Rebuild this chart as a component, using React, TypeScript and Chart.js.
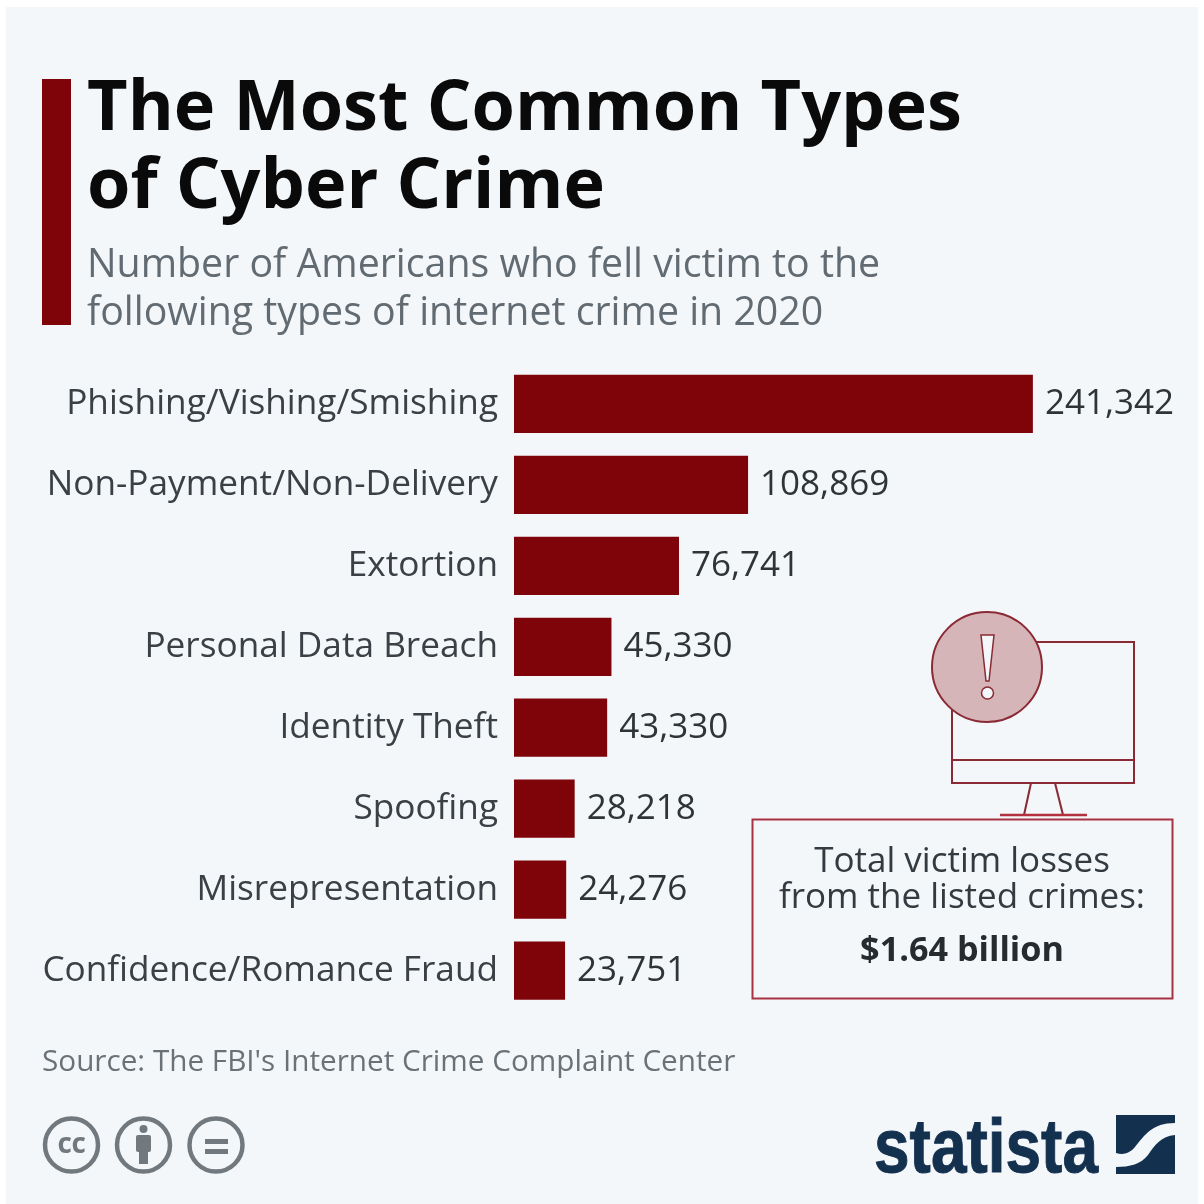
import React, { useEffect, useRef } from "react";
import { Chart, registerables } from "chart.js";

Chart.register(...registerables);

const categories = [
  "Phishing/Vishing/Smishing",
  "Non-Payment/Non-Delivery",
  "Extortion",
  "Personal Data Breach",
  "Identity Theft",
  "Spoofing",
  "Misrepresentation",
  "Confidence/Romance Fraud",
];
const victims = [241342, 108869, 76741, 45330, 43330, 28218, 24276, 23751];
const titleLines = ["The Most Common Types", "of Cyber Crime"];
const subtitleLines = [
  "Number of Americans who fell victim to the",
  "following types of internet crime in 2020",
];
const sourceText = "Source: The FBI's Internet Crime Complaint Center";
const boxLines = ["Total victim losses", "from the listed crimes:"];
const boxValue = "$1.64 billion";

const FONT = '"Open Sans", sans-serif';
const RED = "#7f0409";
const LINE = "#8a2a35";
const GREY = "#72797e";

const valueLabels = {
  id: "valueLabels",
  afterDatasetsDraw(chart: any) {
    const { ctx } = chart;
    const meta = chart.getDatasetMeta(0);
    ctx.save();
    ctx.font = `35px ${FONT}`;
    ctx.fillStyle = "#2f3437";
    ctx.textAlign = "left";
    ctx.textBaseline = "middle";
    meta.data.forEach((bar: any, i: number) => {
      ctx.fillText(victims[i].toLocaleString("en-US"), bar.x + 12, bar.y);
    });
    ctx.restore();
  },
};

export default function App() {
  const ref = useRef<HTMLCanvasElement>(null);

  useEffect(() => {
    const chart = new Chart(ref.current!, {
      type: "bar",
      data: {
        labels: categories,
        datasets: [
          {
            data: victims,
            backgroundColor: RED,
            barPercentage: 0.72,
            categoryPercentage: 1,
          },
        ],
      },
      options: {
        indexAxis: "y",
        animation: false,
        responsive: false,
        devicePixelRatio: 1,
        layout: { padding: { top: 363.5, bottom: 193, left: 0, right: 45 } },
        plugins: { legend: { display: false }, tooltip: { enabled: false } },
        scales: {
          x: { display: false, min: 0, max: 300000 },
          y: {
            grid: { display: false },
            border: { display: false },
            afterFit(scale: any) {
              scale.width = 514;
            },
            ticks: {
              padding: 8,
              autoSkip: false,
              color: "#3a4045",
              font: { family: "Open Sans", size: 35.2 },
            },
          },
        },
      },
      plugins: [valueLabels],
    });
    return () => chart.destroy();
  }, []);

  return (
    <div style={{ position: "absolute", left: 0, top: 0, width: 1204, height: 1204, background: "#ffffff", overflow: "hidden" }}>
      <div style={{ position: "absolute", left: 6, top: 7, width: 1192, height: 1197, background: "#f3f7fa" }} />
      <canvas ref={ref} width={1204} height={1204} style={{ position: "absolute", left: 0, top: 0, display: "block" }} />
      <svg width={1204} height={1204} style={{ position: "absolute", left: 0, top: 0 }} fontFamily={FONT}>
        <rect x={42} y={79} width={29} height={246} fill={RED} />
        <text x={87} y={130} fontSize={70.2} fontWeight={700} fill="#0a0a0a">{titleLines[0]}</text>
        <text x={87} y={208} fontSize={70.2} fontWeight={700} fill="#0a0a0a">{titleLines[1]}</text>
        <text x={87} y={277} fontSize={39.3} fill="#626b72">{subtitleLines[0]}</text>
        <text x={87} y={325} fontSize={39.3} fill="#626b72">{subtitleLines[1]}</text>

        {/* monitor */}
        <g fill="none" stroke={LINE} strokeWidth={2}>
          <rect x={952} y={642} width={182} height={141} />
          <line x1={952} y1={760} x2={1134} y2={760} />
          <line x1={1031} y1={783} x2={1024} y2={815} />
          <line x1={1055} y1={783} x2={1063} y2={815} />
        </g>
        <line x1={1000} y1={815} x2={1087} y2={815} stroke="#b5303f" strokeWidth={2.5} />
        <circle cx={987} cy={667} r={55} fill="#d6b5b8" stroke={LINE} strokeWidth={2} />
        <path d="M981 635 L994 635 L989 681 L986 681 Z" fill="#f3f7fa" stroke={LINE} strokeWidth={1.5} />
        <circle cx={987.5} cy={693} r={6} fill="#f3f7fa" stroke={LINE} strokeWidth={1.5} />

        {/* losses box */}
        <rect x={752.5} y={819.5} width={420} height={179} fill="none" stroke="#a83243" strokeWidth={2} />
        <text x={962} y={872} fontSize={35} textAnchor="middle" fill="#333a40">{boxLines[0]}</text>
        <text x={962} y={908} fontSize={35} textAnchor="middle" fill="#333a40">{boxLines[1]}</text>
        <text x={962} y={961} fontSize={34.2} fontWeight={700} textAnchor="middle" fill="#262b30">{boxValue}</text>

        <text x={42} y={1071} fontSize={29.7} fill="#6a7278">{sourceText}</text>

        {/* licence icons */}
        <g fill="none" stroke={GREY} strokeWidth={4.5}>
          <circle cx={71.5} cy={1145} r={26.5} />
          <circle cx={143.5} cy={1145} r={26.5} />
          <circle cx={216} cy={1145} r={26.5} />
        </g>
        <text x={71.5} y={1153} fontSize={28} fontWeight={700} textAnchor="middle" fill={GREY} letterSpacing={-0.5}>cc</text>
        <g fill={GREY}>
          <circle cx={143.5} cy={1129} r={4} />
          <rect x={136} y={1135} width={15} height={17} rx={2} />
          <rect x={139} y={1150} width={9} height={14} />
          <rect x={205} y={1139} width={23} height={5} />
          <rect x={205} y={1149} width={23} height={5} />
        </g>

        {/* logo */}
        <text x={874} y={1172} fontFamily='"Liberation Sans Narrow", "Liberation Sans", sans-serif' fontWeight={700} fontSize={76} fill="#14304f" stroke="#14304f" strokeWidth={1} textLength={224} lengthAdjust="spacingAndGlyphs">statista</text>
        <path d="M1116 1115 H1175 V1123 C1152 1123 1145 1135 1135 1147 C1129 1154 1123 1155 1116 1153 Z" fill="#14304f" />
        <path d="M1175 1135 V1174 H1116 V1167 C1130 1167 1141 1164 1148 1155 C1155 1145 1161 1136 1175 1135 Z" fill="#14304f" />
      </svg>
    </div>
  );
}
